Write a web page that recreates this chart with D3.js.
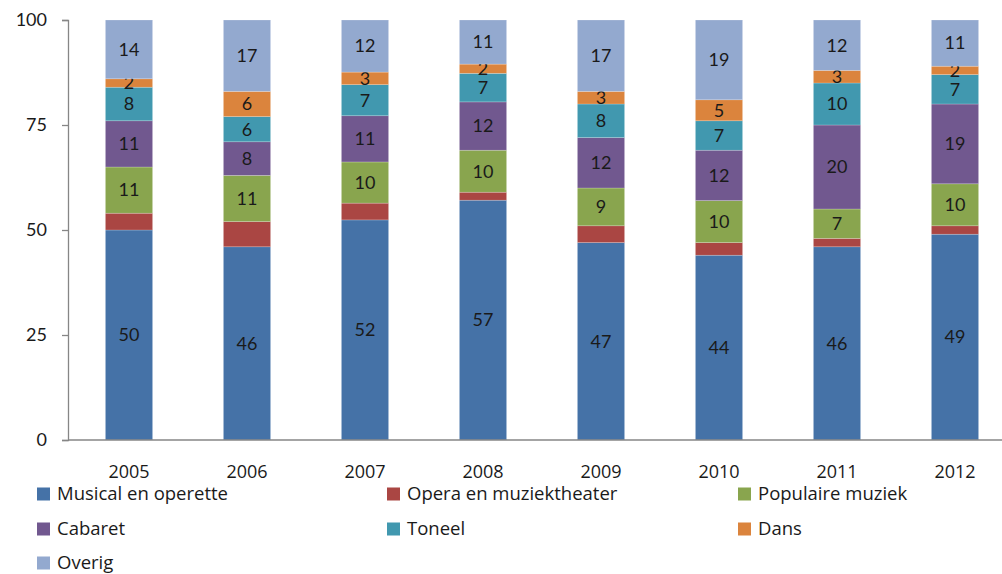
<!DOCTYPE html>
<html>
<head>
<meta charset="utf-8">
<script src="https://cdn.jsdelivr.net/npm/d3@7"></script>
<style>
  body { margin: 0; background: #fff; }
  svg { display: block; font-family: Lato, "Open Sans", sans-serif; }
</style>
</head>
<body>
<script>
// data
const years = ["2005", "2006", "2007", "2008", "2009", "2010", "2011", "2012"];
const seriesNames = ["Musical en operette", "Opera en muziektheater", "Populaire muziek", "Cabaret", "Toneel", "Dans", "Overig"];
const musical   = [50, 46, 52.4, 57.1, 47, 44, 46, 49];
const opera     = [4, 6, 4, 1.9, 4, 3, 2, 2];
const populair  = [11, 11, 9.8, 10, 9, 10, 7, 10];
const cabaret   = [11, 8, 11, 11.5, 12, 12, 20, 19];
const toneel    = [8, 6, 7.4, 6.8, 8, 7, 10, 7];
const dans      = [2, 6, 3, 2.2, 3, 5, 3, 2];
const overig    = [14, 17, 12.4, 10.5, 17, 19, 12, 11];
const yTicks = [0, 25, 50, 75, 100];
const colors = ["#4572A7", "#AA4643", "#89A54E", "#71588F", "#4198AF", "#DB843D", "#93A9CF"];
const labelled = [true, false, true, true, true, true, true];

const W = 1002, H = 574;
const svg = d3.select("body").append("svg").attr("width", W).attr("height", H);

const series = [musical, opera, populair, cabaret, toneel, dans, overig];
const rows = years.map((y, i) => {
    let r = {year: y};
    seriesNames.forEach((s, j) => r[s] = series[j][i]);
    return r;
});
const stacked = d3.stack().keys(seriesNames)(rows);

// scales
let x = d3.scaleBand().domain(years).range([70, 1014]).paddingInner(0.6).paddingOuter(0.3);
let y = d3.scaleLinear().domain([0, 100]).range([440, 20]);

// bars
let g = svg.append("g").attr("class", "bars");
stacked.forEach((layer, j) => {
    let lg = g.append("g").attr("fill", colors[j]);
    lg.selectAll("rect").data(layer).enter().append("rect")
        .attr("x", d => x(d.data.year))
        .attr("width", x.bandwidth())
        .attr("y", d => y(d[1]))
        .attr("height", d => y(d[0]) - y(d[1]))
        .attr("stroke", "#ffffff")
        .attr("stroke-opacity", 0.35)
        .attr("stroke-width", 0.6);
    if (labelled[j]) {
        g.append("g").selectAll("text").data(layer).enter().append("text")
            .attr("x", d => x(d.data.year) + x.bandwidth() / 2)
            .attr("y", d => (y(d[0]) + y(d[1])) / 2)
            .attr("dy", "0.35em")
            .attr("text-anchor", "middle")
            .attr("fill", "#1a1a1a")
            .style("font-size", "18px")
            .text(d => Math.round(d[1] - d[0]));
    }
});

// y axis
let axisY = svg.append("g").attr("class", "axis_y")
    .attr("transform", "translate(68,0)")
    .call(d3.axisLeft(y).tickValues(yTicks).tickSize(6).tickPadding(15));
axisY.select(".domain").attr("stroke", "#868686").attr("stroke-width", 1.3);
axisY.selectAll(".tick line").attr("stroke", "#868686").attr("stroke-width", 1.3);
axisY.selectAll(".tick text").style("font-size", "18px").attr("fill", "#1a1a1a")
    .style("font-family", "Lato, sans-serif");

// x axis
let axisX = svg.append("g").attr("class", "axis_x")
    .attr("transform", "translate(0,440)")
    .call(d3.axisBottom(x).tickSize(0).tickPadding(25));
axisX.select(".domain").attr("stroke", "#868686").attr("stroke-width", 1.5)
    .attr("d", "M68,0H1014");
axisX.selectAll(".tick text").style("font-size", "18px").attr("fill", "#1a1a1a")
    .style("font-family", "'Open Sans', sans-serif");

// legend
const legendCols = [37, 387, 738];
const legendRows = [494, 529, 563];
let legend = svg.append("g").attr("class", "legend")
    .style("font-family", "'Open Sans', sans-serif");
seriesNames.forEach((name, i) => {
    let lx = legendCols[i % 3], ly = legendRows[Math.floor(i / 3)];
    legend.append("rect").attr("x", lx).attr("y", ly - 6.5).attr("width", 13).attr("height", 13)
        .attr("fill", colors[i]);
    legend.append("text").attr("x", lx + 20).attr("y", ly).attr("dy", "0.35em")
        .attr("fill", "#1a1a1a").style("font-size", "18.5px").text(name);
});
</script>
</body>
</html>
